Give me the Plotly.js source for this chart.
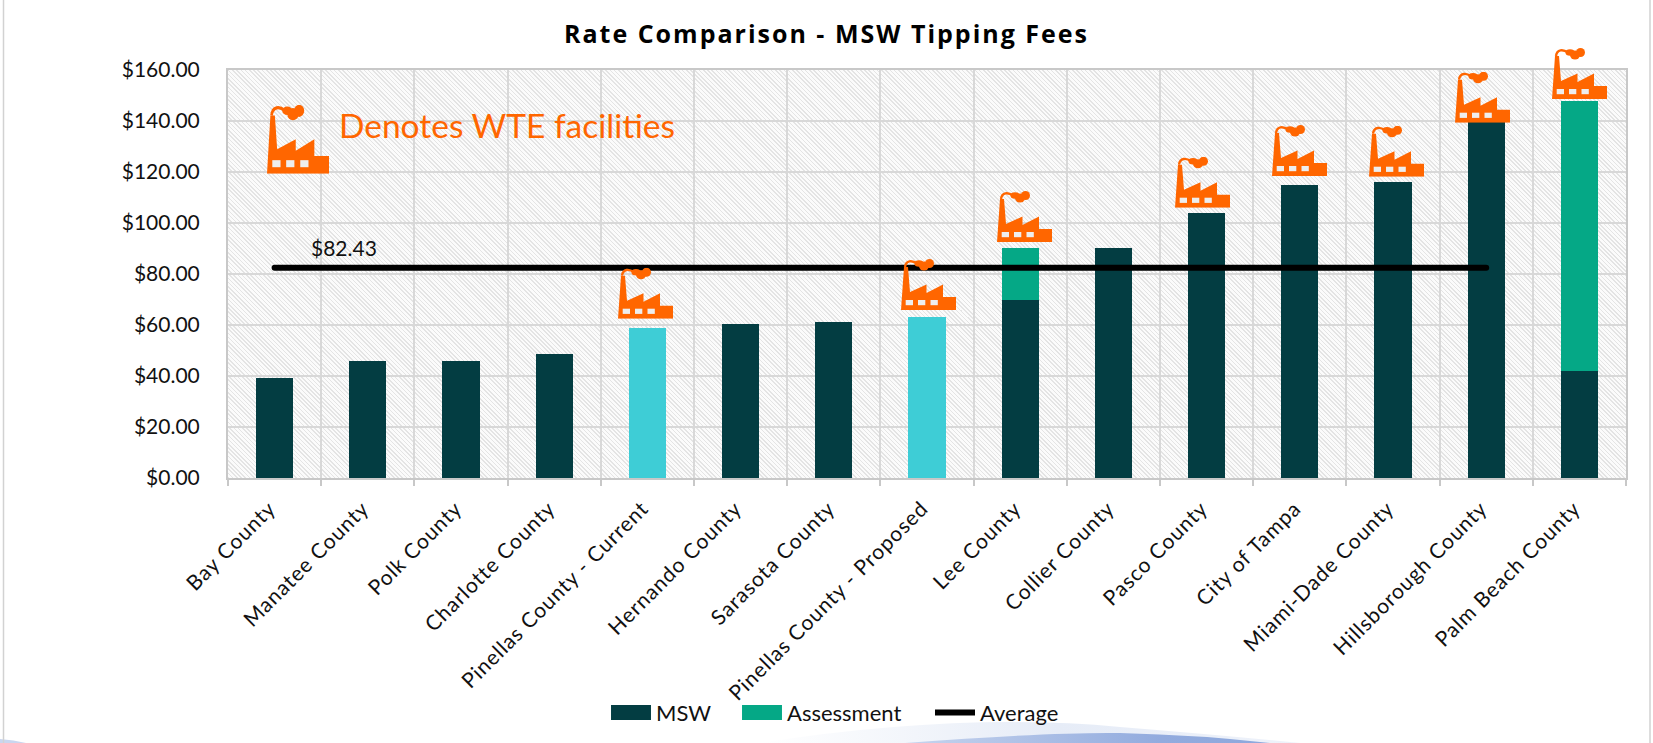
<!DOCTYPE html>
<html><head><meta charset="utf-8">
<script src="https://cdn.plot.ly/plotly-3.0.1.min.js"></script>
<style>
html,body{margin:0;padding:0;background:#fff;overflow:hidden}
#wrap{position:relative;width:1653px;height:743px}
#hatch{position:absolute;left:228px;top:70px;width:1398px;height:408px;background-color:#f6f6f6;
background-image:repeating-linear-gradient(45deg,#e4e4e4 0,#e4e4e4 1.1px,#fbfbfb 1.1px,#fbfbfb 3px)}
#deco{position:absolute;left:0;top:0}
#chart{position:absolute;left:0;top:0;width:1653px;height:743px}
.scatterlayer .js-line{stroke-linecap:round}
g.xtick{transform:translate(-5px,-4px)}
.xtick text{letter-spacing:.9px}
.gtitle{letter-spacing:2px}
.annotation-text{font-variant-ligatures:none}
.legend .scrollbox{clip-path:none !important}
.legend .legendpoints path{transform:translate(25px,0) scale(3.33,1.25) !important}
.legend .traces:nth-child(1){transform:translate(0,14.5px)}
.legend .traces:nth-child(2){transform:translate(131px,14.5px)}
.legend .traces:nth-child(3){transform:translate(324px,14.5px)}
</style></head><body>
<div id="wrap">
<svg id="deco" width="1653" height="743">
<defs>
<linearGradient id="g1" x1="0" x2="1"><stop offset="0" stop-color="#ffffff"/><stop offset="0.55" stop-color="#e6ecf7"/><stop offset="1" stop-color="#eef2fa"/></linearGradient>
<linearGradient id="g2" x1="0" x2="1"><stop offset="0" stop-color="#c6d4ee"/><stop offset="0.7" stop-color="#92abde"/><stop offset="1" stop-color="#8ea8dc"/></linearGradient>
</defs>
<path d="M760 743Q960 712 1120 727Q1220 735 1300 743Z" fill="url(#g1)"/>
<path d="M905 743Q1050 732 1120 733Q1200 735 1270 743Z" fill="url(#g2)"/>
<path d="M0 739Q14 740 26 743H0Z" fill="#c9d6ef"/>
<line x1="3.5" y1="0" x2="3.5" y2="743" stroke="#d2d2d2" stroke-width="1.5"/>
<line x1="1650" y1="0" x2="1650" y2="743" stroke="#d2d2d2" stroke-width="1.5"/>
</svg>
<div id="hatch"></div>
<div id="chart"></div>
</div>
<script>
const categories=["Bay County","Manatee County","Polk County","Charlotte County","Pinellas County - Current","Hernando County","Sarasota County","Pinellas County - Proposed","Lee County","Collier County","Pasco County","City of Tampa","Miami-Dade County","Hillsborough County","Palm Beach County"];
const msw=[39.3,46,46,48.5,58.7,60.5,61,63.3,70,90.3,104,115,116,141,42];
const assessment=[0,0,0,0,0,0,0,0,20.3,0,0,0,0,0,106];
const average=[82.43,82.43,82.43,82.43,82.43,82.43,82.43,82.43,82.43,82.43,82.43,82.43,82.43,82.43,null];
const mswColors=categories.map(c=>c.startsWith("Pinellas")?"#3ecdd6":"#033d42");
const wteLabel="Denotes WTE facilities";
// factory icons: left edge and bottom edge in px of the picture
const iconLeft=[618,901,997,1175,1272,1369,1455,1552];
const iconBottom=[318.7,310,242,207.7,176,176.7,122.7,99];

const L=228,T=70,W=1398,H=408,R=1653-L-W,B=743-T-H;
const orange="#ff6600";
const factorySvg=`<svg xmlns="http://www.w3.org/2000/svg" viewBox="0 0 55 51" preserveAspectRatio="none"><path fill="${orange}" d="M0 51L3 8H7L9 33L25.5 25.5V34L42 25.5V38H55V51Z"/><path fill="none" stroke="${orange}" stroke-width="2.4" d="M4 8C5 1 11 1 16 4.5"/><ellipse fill="${orange}" cx="18" cy="4.5" rx="4.5" ry="3.2"/><ellipse fill="${orange}" cx="23" cy="7" rx="5" ry="4.5"/><ellipse fill="${orange}" cx="28.5" cy="4.5" rx="4.5" ry="4.5"/><rect fill="#eee" x="4.7" y="41" width="7.3" height="5.2"/><rect fill="#eee" x="17" y="41" width="7.3" height="5.2"/><rect fill="#eee" x="29.5" y="41" width="7.3" height="5.2"/></svg>`;
const factoryUri="data:image/svg+xml;base64,"+btoa(factorySvg);
const px=x=>(x-L)/W, py=y=>(T+H-y)/H;
const img=(l,b,w,h)=>({source:factoryUri,xref:"paper",yref:"paper",x:px(l),y:py(b),sizex:w/W,sizey:h/H,xanchor:"left",yanchor:"bottom",sizing:"stretch",layer:"above"});
const images=iconLeft.map((l,i)=>img(l,iconBottom[i],55,51));
images.push(img(267,173.7,62,69));

const font="Lato, 'Open Sans', sans-serif";
const traces=[
 {type:"bar",name:"MSW",x:categories,y:msw,marker:{color:mswColors},width:0.4},
 {type:"bar",name:"Assessment",x:categories,y:assessment,marker:{color:"#05a886"},width:0.4},
 {type:"scatter",mode:"lines",name:"Average",x:categories,y:average,line:{color:"#000",width:6}}
];
const layout={
 width:1653,height:743,margin:{l:L,r:R,t:T,b:B,pad:0,autoexpand:false},
 paper_bgcolor:"rgba(0,0,0,0)",plot_bgcolor:"rgba(0,0,0,0)",
 barmode:"stack",showlegend:true,
 title:{text:"Rate Comparison - MSW Tipping Fees",x:0.5,xanchor:"center",y:0.954,yanchor:"middle",font:{family:"'Open Sans', Lato, sans-serif",size:25,color:"#000",weight:700}},
 font:{family:font,color:"#111"},
 xaxis:{type:"category",tickson:"boundaries",tickangle:-45,ticks:"outside",ticklen:6,tickcolor:"#c8c8c8",tickwidth:2,ticklabelstandoff:12,
  showline:true,linecolor:"#c8c8c8",linewidth:2,showgrid:true,gridcolor:"#d8d8d8",gridwidth:2,tickfont:{size:21,family:font,color:"#111"},automargin:false,mirror:true},
 yaxis:{range:[0,160],dtick:20,tickformat:"$.2f",ticks:"",ticklabelstandoff:22,showline:true,linecolor:"#c8c8c8",linewidth:2,showgrid:true,gridcolor:"#d8d8d8",gridwidth:2,
  tickfont:{size:21,family:font,color:"#111"},automargin:false,zeroline:false,mirror:true},
 legend:{orientation:"h",x:px(606),xanchor:"left",y:py(698),yanchor:"top",itemwidth:40,font:{size:22,family:font,color:"#111"},traceorder:"normal",bgcolor:"rgba(0,0,0,0)",itemclick:false,itemdoubleclick:false},
 annotations:[
  {xref:"paper",yref:"paper",x:px(337),y:py(125),xanchor:"left",yanchor:"middle",text:wteLabel,showarrow:false,font:{family:font,size:33.5,color:orange}},
  {xref:"paper",yref:"y",x:px(309),y:average[0],yshift:20,xanchor:"left",yanchor:"middle",text:"$"+average[0].toFixed(2),showarrow:false,font:{family:font,size:21,color:"#111"}}
 ],
 images:images
};
Plotly.newPlot("chart",traces,layout,{displayModeBar:false,responsive:false});
</script>
</body></html>
